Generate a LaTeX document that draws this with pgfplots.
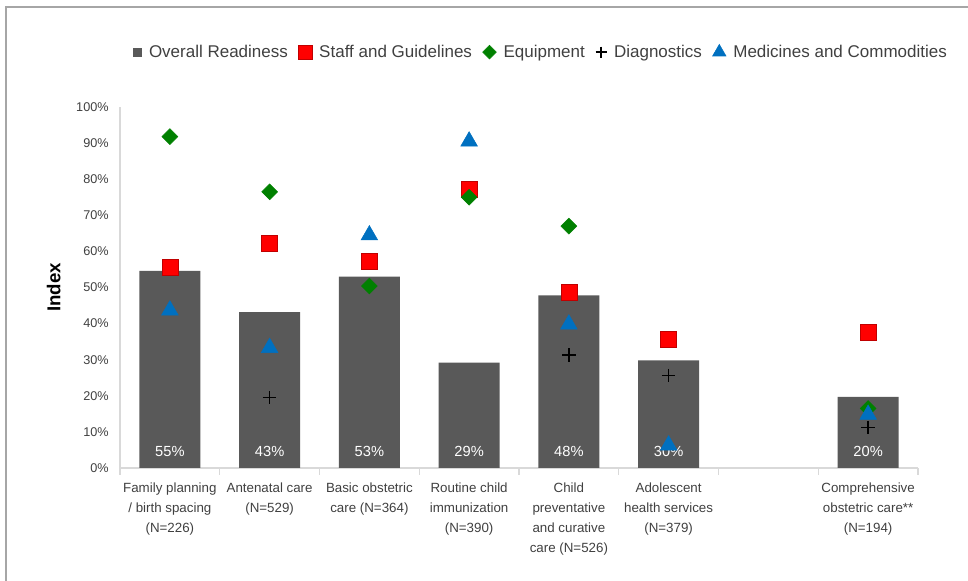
\documentclass[border=0pt]{standalone}
\usepackage{fontspec}
\setmainfont{Liberation Sans}
\usepackage{pgfplots}
\pgfplotsset{compat=1.18}
\definecolor{barcol}{HTML}{595959}
\definecolor{staffcol}{HTML}{FF0000}
\definecolor{staffedge}{HTML}{C00000}
\definecolor{equipcol}{HTML}{008000}
\definecolor{medcol}{HTML}{0070C0}
\definecolor{axcol}{HTML}{D9D9D9}
\definecolor{txtcol}{HTML}{404040}
\definecolor{framecol}{HTML}{A6A6A6}

\begin{document}
\begin{tikzpicture}
\useasboundingbox (0,0) rectangle (726pt,435.75pt);
\draw[framecol, line width=1.5pt] (4.5pt,0) -- (4.5pt,430.5pt) -- (726pt,430.5pt);
\begin{axis}[
  at={(90pt,84.75pt)}, anchor=south west,
  scale only axis, width=598.5pt, height=270.75pt,
  xmin=-0.5, xmax=7.5, ymin=0, ymax=100,
  axis x line*=bottom, axis y line*=left,
  axis line style={axcol, line width=1pt},
  xtick={0,...,7},
  xticklabels={{Family planning\\/ birth spacing\\(N=226)},
               {Antenatal care\\(N=529)},
               {Basic obstetric\\care (N=364)},
               {Routine child\\immunization\\(N=390)},
               {Child\\preventative\\and curative\\care (N=526)},
               {Adolescent\\health services\\(N=379)},
               {},
               {Comprehensive\\obstetric care**\\(N=194)}},
  xticklabel style={align=center, text=txtcol, font=\fontsize{10}{15}\selectfont, yshift=-3pt},
  major x tick style={draw=none},
  minor xtick={-0.5,0.5,...,7.5},
  minor x tick style={axcol, line width=1pt},
  minor tick length=5pt, xtick align=outside,
  ytick={0,10,...,100},
  yticklabel={\pgfmathprintnumber{\tick}\%},
  yticklabel style={text=txtcol, font=\fontsize{9.5}{11}\selectfont, xshift=-5pt},
  major y tick style={draw=none},
  /pgf/number format/assume math mode=true,
  ylabel={Index},
  ylabel style={at={(axis description cs:-0.083,0.5)}, anchor=center, font=\fontsize{14}{16}\selectfont\bfseries},
  legend columns=5,
  legend cell align=left,
  legend image code/.code={\draw[#1] plot coordinates {(0pt,0pt)};},
  legend style={draw=none, fill=none, at={(0.528,1.152)}, anchor=center,
    font=\fontsize{12.75}{15}\selectfont, text=txtcol,
    /tikz/every even column/.append style={column sep=6pt},
    /tikz/every odd column/.append style={column sep=3.5pt}},
]
% overall readiness bars
\addplot[ybar, bar width=0.61, fill=barcol, draw=none, forget plot] coordinates {
  (0,54.6) (1,43.2) (2,53.0) (3,29.2) (4,47.8) (5,29.8) (7,19.7)};
% bar value labels
\addplot[draw=none, forget plot, point meta=explicit symbolic,
  nodes near coords={\pgfplotspointmeta\%},
  every node near coord/.append style={anchor=center, text=white, font=\fontsize{11}{13}\selectfont}]
  coordinates {(0,4.7)[55] (1,4.7)[43] (2,4.7)[53] (3,4.7)[29] (4,4.7)[48] (5,4.7)[30] (7,4.7)[20]};
% staff and guidelines
\addplot[only marks, mark=square*, mark size=6pt, forget plot,
  mark options={fill=staffcol, draw=staffedge, line width=0.5pt}] coordinates {
  (0,55.5) (1,62.1) (2,57.3) (3,77.2) (4,48.6) (5,35.6) (7,37.5)};
% equipment
\addplot[only marks, mark=square*, mark size=4.2pt, forget plot,
  mark options={rotate=45, fill=equipcol, draw=equipcol}] coordinates {
  (0,91.8) (1,76.5) (2,50.4) (3,75.0) (4,67.0) (7,16.5)};
% diagnostics
\addplot[only marks, mark=+, mark size=5pt, forget plot,
  mark options={draw=black, line width=1.3pt}] coordinates {
  (1,19.5) (4,31.3) (5,25.6) (7,11.2)};
% medicines and commodities
\addplot[only marks, mark=triangle*, mark size=7.2pt, forget plot,
  mark options={fill=medcol, draw=medcol}] coordinates {
  (0,43.7) (1,33.3) (2,64.5) (3,90.5) (4,39.8) (5,6.3) (7,14.8)};
% legend
\addlegendimage{only marks, mark=square*, mark size=3.2pt, mark options={fill=barcol, draw=barcol}}
\addlegendentry{Overall Readiness}
\addlegendimage{only marks, mark=square*, mark size=5pt, mark options={fill=staffcol, draw=staffedge}}
\addlegendentry{Staff and Guidelines}
\addlegendimage{only marks, mark=square*, mark size=3.6pt, mark options={rotate=45, fill=equipcol, draw=equipcol}}
\addlegendentry{Equipment}
\addlegendimage{only marks, mark=+, mark size=4.2pt, mark options={draw=black, line width=1pt}}
\addlegendentry{Diagnostics}
\addlegendimage{only marks, mark=triangle*, mark size=5.8pt, mark options={fill=medcol, draw=medcol}}
\addlegendentry{Medicines and Commodities}
\end{axis}
\end{tikzpicture}
\end{document}
